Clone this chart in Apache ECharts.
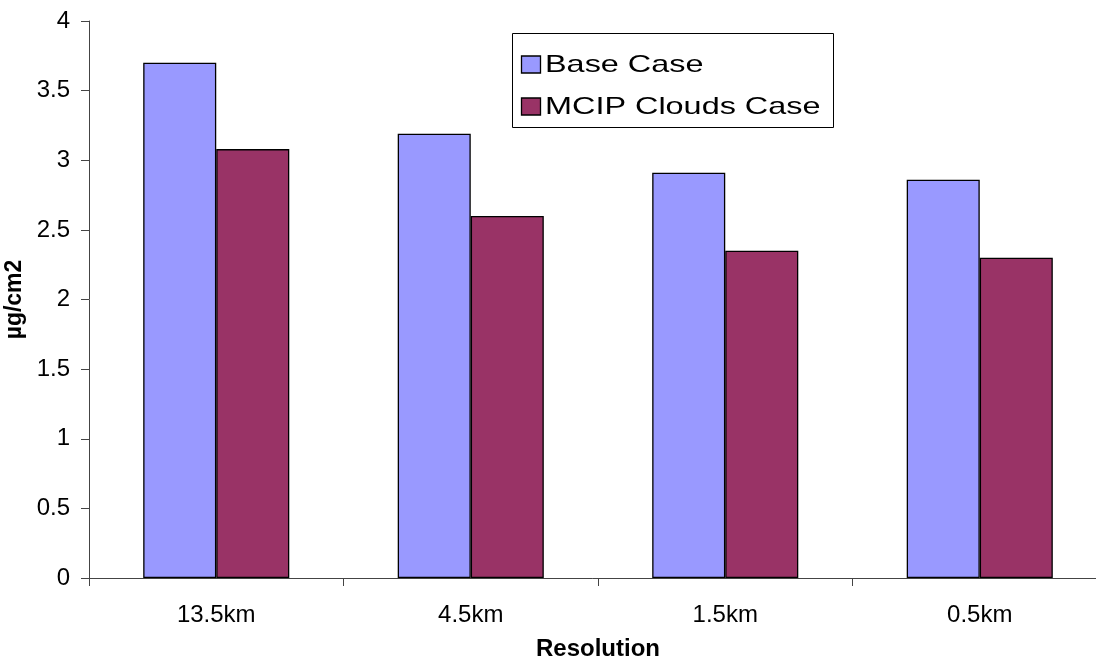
<!DOCTYPE html>
<html>
<head>
<meta charset="utf-8">
<script src="https://cdn.jsdelivr.net/npm/echarts@6/dist/echarts.min.js"></script>
<style>
  html, body { margin: 0; padding: 0; background: #ffffff; }
  #chart { width: 1096px; height: 660px; }
</style>
</head>
<body>
<div id="chart"></div>
<script>
// Deposition per grid resolution, two model configurations
const categories = ['13.5km', '4.5km', '1.5km', '0.5km'];
const baseCase = [3.70, 3.19, 2.91, 2.86];
const mcipCloudsCase = [3.08, 2.60, 2.35, 2.30];
const seriesNames = ['Base Case', 'MCIP Clouds Case'];
const seriesColors = ['#9999FF', '#993366'];

const FONT = '"Liberation Sans", Arial, sans-serif';
const chart = echarts.init(document.getElementById('chart'));

// Framed key in the upper middle of the plot, text drawn slightly widened
const keyX = 512, keyY = 33, keyW = 321, keyH = 94;
const keyRows = [64, 106];
const keyGraphics = [
  {
    type: 'rect',
    shape: { x: keyX + 0.5, y: keyY + 0.5, width: keyW, height: keyH },
    style: { fill: '#ffffff', stroke: '#000000', lineWidth: 1 },
    z: 100
  }
];
seriesNames.forEach(function (name, i) {
  keyGraphics.push({
    type: 'rect',
    shape: { x: 521.5, y: keyRows[i] - 8, width: 19, height: 17 },
    style: { fill: seriesColors[i], stroke: '#000000', lineWidth: 1.3 },
    z: 101
  });
  keyGraphics.push({
    type: 'text',
    x: 545,
    y: keyRows[i] + 1,
    scaleX: 1.35,
    style: {
      text: name,
      fontFamily: FONT,
      fontSize: 24,
      fill: '#000000',
      align: 'left',
      verticalAlign: 'middle'
    },
    z: 101
  });
});

chart.setOption({
  animation: false,
  backgroundColor: '#ffffff',
  grid: {
    left: 89, top: 21, bottom: 82, width: 1018,
    containLabel: false,
    outerBoundsMode: 'none'
  },
  graphic: keyGraphics,
  xAxis: {
    type: 'category',
    data: categories,
    name: 'Resolution',
    nameLocation: 'middle',
    nameGap: 59,
    nameTextStyle: { fontFamily: FONT, fontSize: 24, fontWeight: 'bold', color: '#000000' },
    axisLine: { lineStyle: { color: '#444444', width: 1 } },
    axisTick: { show: true, length: 8, lineStyle: { color: '#444444' } },
    axisLabel: { margin: 25, fontFamily: FONT, fontSize: 24, color: '#000000' }
  },
  yAxis: {
    type: 'value',
    min: 0,
    max: 4,
    interval: 0.5,
    name: 'µg/cm2',
    nameLocation: 'middle',
    nameGap: 57,
    nameTextStyle: { fontFamily: FONT, fontSize: 23, fontWeight: 'bold', color: '#000000' },
    splitLine: { show: false },
    axisLine: { show: true, lineStyle: { color: '#444444', width: 1 } },
    axisTick: { show: true, length: 8, lineStyle: { color: '#444444' } },
    axisLabel: { margin: 19, fontFamily: FONT, fontSize: 24, color: '#000000' }
  },
  series: [
    {
      name: seriesNames[0],
      type: 'bar',
      data: baseCase,
      barGap: '0%',
      barCategoryGap: '42.6%',
      itemStyle: { color: seriesColors[0], borderColor: '#000000', borderWidth: 1.3 }
    },
    {
      name: seriesNames[1],
      type: 'bar',
      data: mcipCloudsCase,
      itemStyle: { color: seriesColors[1], borderColor: '#000000', borderWidth: 1.3 }
    }
  ]
});
</script>
</body>
</html>
